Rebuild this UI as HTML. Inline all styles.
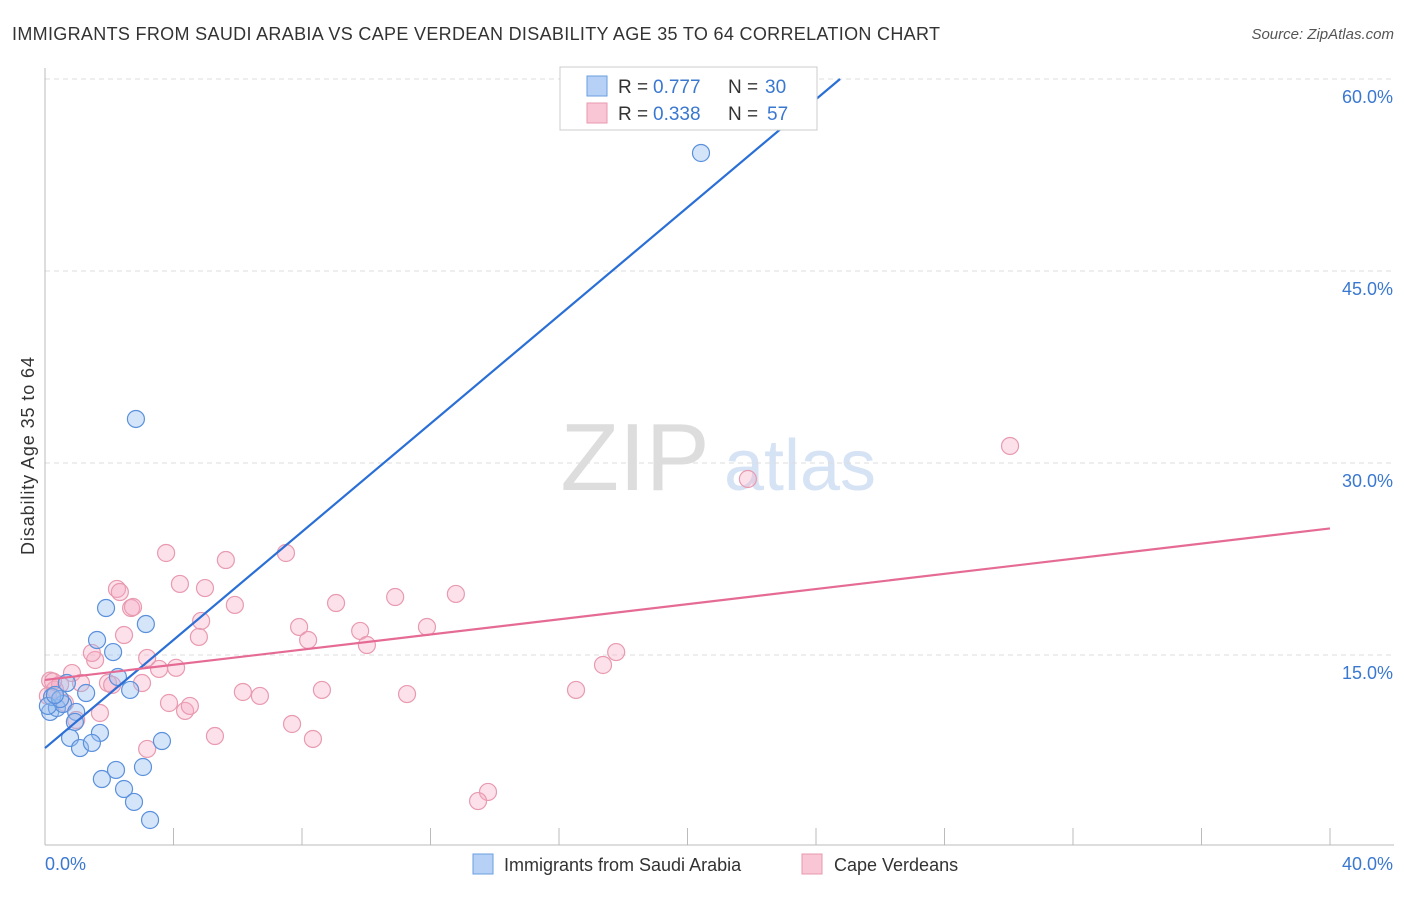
<!DOCTYPE html>
<html><head><meta charset="utf-8"><style>
body{margin:0;background:#fff;font-family:"Liberation Sans",sans-serif}
svg text{font-family:"Liberation Sans",sans-serif}
</style></head><body>
<svg width="1406" height="892" id="chart">
<text x="12" y="40" font-size="18" fill="#333" textLength="928">IMMIGRANTS FROM SAUDI ARABIA VS CAPE VERDEAN DISABILITY AGE 35 TO 64 CORRELATION CHART</text>
<text x="1394" y="39" font-size="15" fill="#555" font-style="italic" text-anchor="end">Source: ZipAtlas.com</text>
<text x="34" y="456" font-size="18" fill="#333" text-anchor="middle" transform="rotate(-90 34 456)" textLength="198">Disability Age 35 to 64</text>
<g><text x="635" y="490" font-size="96" fill="#ddd" font-family="Liberation Serif" text-anchor="middle">ZIP</text><text x="800" y="490" font-size="72" fill="#d6e3f5" text-anchor="middle">atlas</text></g>
<g id="grid"></g><g id="axes"></g><g id="marks"></g>
<g>
<rect x="560" y="67" width="257" height="63" fill="#fff" stroke="#ccc"/>
<rect x="587" y="76" width="20" height="20" fill="#b6d1f5" stroke="#6a9ee0"/>
<rect x="587" y="103" width="20" height="20" fill="#f9c6d5" stroke="#e89ab0"/>
<text y="93" font-size="19" fill="#333"><tspan x="618">R =</tspan><tspan x="653" fill="#3a78d0">0.777</tspan><tspan x="728">N =</tspan><tspan x="765" fill="#3a78d0">30</tspan></text>
<text y="120" font-size="19" fill="#333"><tspan x="618">R =</tspan><tspan x="653" fill="#3a78d0">0.338</tspan><tspan x="728">N =</tspan><tspan x="767" fill="#3a78d0">57</tspan></text>
</g>
<g>
<rect x="473" y="854" width="20" height="20" fill="#b6d1f5" stroke="#6a9ee0"/>
<text x="504" y="871" font-size="18" fill="#333">Immigrants from Saudi Arabia</text>
<rect x="802" y="854" width="20" height="20" fill="#f9c6d5" stroke="#e89ab0"/>
<text x="834" y="871" font-size="18" fill="#333">Cape Verdeans</text>
</g>
</svg>
<script>
const yTicks=[15,30,45,60];
const yTickLabels=["15.0%","30.0%","45.0%","60.0%"];
const xTickLabels=["0.0%","40.0%"];
const blueX=[20.42,2.83,1.90,1.62,2.12,3.14,2.27,2.65,0.68,1.28,0.16,0.37,0.56,0.22,0.97,1.71,0.78,1.09,1.46,3.64,3.05,2.21,1.77,2.46,2.77,3.27,0.09,0.47,0.31,0.93];
const blueY=[54.22,33.44,18.67,16.17,15.23,17.42,13.28,12.27,12.81,12.03,10.55,10.86,11.17,11.72,10.55,8.91,8.52,7.73,8.13,8.28,6.25,6.02,5.31,4.53,3.52,2.11,11.02,11.56,11.88,9.77];
const pinkX=[30.04,21.88,3.77,5.63,7.50,2.24,4.20,4.98,2.33,2.68,2.74,5.91,9.06,10.90,12.79,4.86,7.91,8.19,9.81,10.02,11.89,2.46,4.79,17.78,17.37,3.18,1.56,1.46,3.55,4.08,0.84,1.12,1.96,2.09,3.02,6.16,6.69,8.62,11.27,16.53,3.86,4.36,4.51,1.71,0.97,7.69,5.29,8.34,3.18,13.79,13.48,0.16,0.31,0.47,0.09,0.62,0.25];
const pinkY=[31.33,28.75,22.97,22.42,22.97,20.16,20.55,20.23,19.92,18.67,18.75,18.91,19.06,19.53,19.77,17.66,17.19,16.17,16.88,15.78,17.19,16.56,16.41,15.23,14.22,14.77,14.61,15.16,13.91,14.00,13.59,12.81,12.81,12.66,12.81,12.11,11.80,12.27,11.95,12.27,11.25,10.63,11.02,10.47,9.92,9.61,8.67,8.44,7.66,4.30,3.59,13.00,12.30,12.70,11.80,11.25,12.93];
const blueFit=[7.73,2.112];
const pinkFit=[13.05,0.296];
const NS="http://www.w3.org/2000/svg";
const xS=v=>45+v/40*1285, yS=v=>847-v*12.8;
function mk(t,a,p){const e=document.createElementNS(NS,t);for(const k in a)e.setAttribute(k,a[k]);document.getElementById(p).appendChild(e);return e;}
yTicks.forEach((t,i)=>{
 const g=mk('line',{x1:45,x2:1394,y1:yS(t),y2:yS(t),stroke:'#ddd','stroke-dasharray':'5,4'},'grid');
 
 
 const l=mk('text',{x:1393,y:yS(t)+24,'font-size':18,fill:'#3a78d0','text-anchor':'end'},'axes');l.textContent=yTickLabels[i];
 
 
});
const ax=mk('line',{x1:45,x2:45,y1:68,y2:845,stroke:'#bbb'},'axes');


const bx=mk('line',{x1:45,x2:1394,y1:845,y2:845,stroke:'#bbb'},'axes');


for(let i=0;i<=10;i++){const t=mk('line',{x1:xS(i*4),x2:xS(i*4),y1:828,y2:845,stroke:'#bbb'},'axes');
 
 }
[[0,45,'start'],[40,1393,'end']].forEach((d,i)=>{const l=mk('text',{x:d[1],y:870,'font-size':18,fill:'#3a78d0','text-anchor':d[2]},'axes');l.textContent=xTickLabels[i];
 
 });
pinkX.forEach((x,i)=>{const c=mk('circle',{cx:xS(x),cy:yS(pinkY[i]),r:8.5,fill:'rgba(245,170,195,0.35)',stroke:'#e89ab0','stroke-width':1.2},'marks');
 
 });
blueX.forEach((x,i)=>{const c=mk('circle',{cx:xS(x),cy:yS(blueY[i]),r:8.5,fill:'rgba(150,190,240,0.4)',stroke:'#5a90dc','stroke-width':1.2},'marks');
 
 });
const bx2=(60-blueFit[0])/blueFit[1];
const bl=mk('line',{x1:xS(0),y1:yS(blueFit[0]),x2:xS(bx2),y2:yS(60),stroke:'#2a6fd6','stroke-width':2.2},'marks');


const pl=mk('line',{x1:xS(0),y1:yS(pinkFit[0]),x2:xS(40),y2:yS(pinkFit[0]+pinkFit[1]*40),stroke:'#e56b95','stroke-width':2.2},'marks');


</script>
</body></html>
